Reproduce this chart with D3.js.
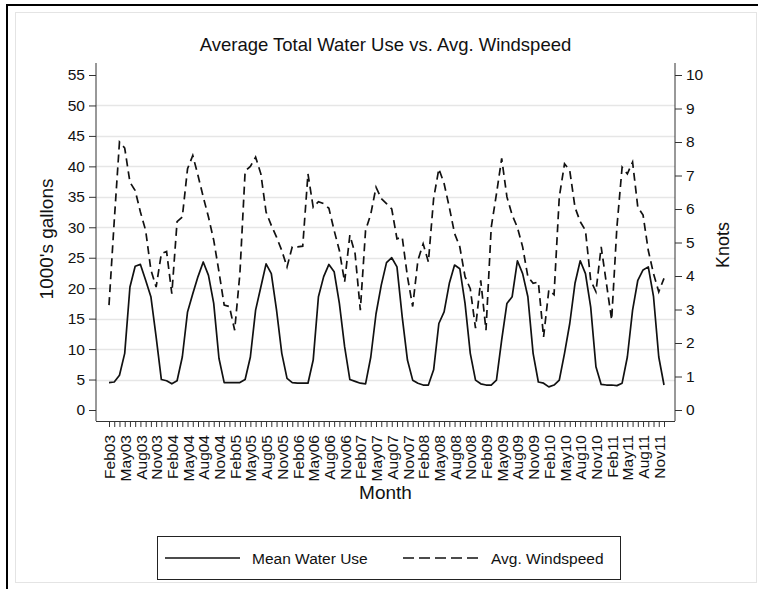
<!DOCTYPE html>
<html>
<head>
<meta charset="utf-8">
<script src="https://cdn.jsdelivr.net/npm/d3@7"></script>
<style>
  html, body { margin: 0; padding: 0; background: #fff; }
  svg { display: block; font-family: "Liberation Sans", Arial, sans-serif; }
</style>
</head>
<body>
<svg id="chart" width="758" height="589"></svg>
<script>
// ---------- data ----------
// Mean water use (1000's gallons), monthly Feb03 .. Dec11
const waterUse = [
  4.5, 4.6, 5.7, 9.3, 20.2, 23.6, 23.9, 21.3, 18.6, 12.0, 5.0, 4.8,
  4.3, 4.8, 8.7, 16.1, 19.1, 21.9, 24.3, 22.1, 17.5, 8.5, 4.5, 4.5,
  4.5, 4.5, 5.0, 8.7, 16.4, 20.2, 24.0, 22.4, 16.4, 9.3, 5.2, 4.5,
  4.4, 4.4, 4.4, 8.2, 18.6, 21.9, 23.9, 22.7, 17.5, 10.4, 5.0, 4.7,
  4.4, 4.3, 8.7, 15.8, 20.5, 24.2, 25.0, 23.5, 15.3, 8.2, 4.9, 4.4,
  4.1, 4.1, 6.6, 14.2, 16.1, 20.8, 23.8, 23.2, 17.5, 9.3, 4.9, 4.3,
  4.1, 4.1, 4.9, 11.5, 17.5, 18.6, 24.5, 22.4, 18.6, 9.3, 4.6, 4.4,
  3.8, 4.1, 4.9, 9.3, 14.2, 20.8, 24.5, 22.4, 16.9, 7.1, 4.2, 4.1,
  4.1, 4.0, 4.4, 8.7, 16.4, 21.3, 23.0, 23.5, 18.6, 8.7, 4.1
];

// Average windspeed (knots), monthly Feb03 .. Dec11
const windSpeed = [
  3.13, 5.64, 8.00, 7.82, 6.80, 6.55, 5.91, 5.36, 4.18, 3.67, 4.67, 4.73,
  3.47, 5.62, 5.76, 7.20, 7.60, 7.00, 6.36, 5.76, 5.07, 4.13, 3.13, 3.09,
  2.38, 4.07, 7.13, 7.27, 7.55, 7.05, 5.91, 5.51, 5.16, 4.76, 4.27, 4.87,
  4.87, 4.89, 7.05, 6.05, 6.22, 6.16, 6.02, 5.36, 4.76, 3.82, 5.22, 4.67,
  2.98, 5.36, 5.85, 6.65, 6.31, 6.16, 6.00, 5.11, 5.16, 3.98, 3.09, 4.47,
  4.96, 4.42, 6.31, 7.20, 6.76, 6.05, 5.27, 4.87, 3.98, 3.62, 2.44, 3.87,
  2.38, 5.45, 6.45, 7.51, 6.36, 5.82, 5.45, 4.87, 3.98, 3.78, 3.82, 2.18,
  3.58, 3.44, 6.36, 7.35, 7.15, 6.05, 5.62, 5.36, 3.87, 3.53, 4.87, 3.78,
  2.69, 5.45, 7.25, 7.05, 7.40, 6.05, 5.82, 4.76, 4.07, 3.53, 3.93
];

const xTickLabels = [
  "Feb03","May03","Aug03","Nov03","Feb04","May04","Aug04","Nov04",
  "Feb05","May05","Aug05","Nov05","Feb06","May06","Aug06","Nov06",
  "Feb07","May07","Aug07","Nov07","Feb08","May08","Aug08","Nov08",
  "Feb09","May09","Aug09","Nov09","Feb10","May10","Aug10","Nov10",
  "Feb11","May11","Aug11","Nov11"
];
const leftTicks = [0,5,10,15,20,25,30,35,40,45,50,55];
const rightTicks = [0,1,2,3,4,5,6,7,8,9,10];
const gridValues = [5,10,15,20,25,30,35,40,45,50];

const titleText = "Average Total Water Use vs. Avg. Windspeed";
const yLeftTitle = "1000's gallons";
const yRightTitle = "Knots";
const xTitle = "Month";
const legendLabels = ["Mean Water Use", "Avg. Windspeed"];

// ---------- layout ----------
const plot = { left: 96, right: 675, top: 63, bottom: 421 };
const svg = d3.select("#chart");

// frames
svg.append("rect").attr("x", 15.5).attr("y", 12.5).attr("width", 741).attr("height", 570)
  .attr("fill", "#fff").attr("stroke", "#e4e4e4").attr("stroke-width", 1);
svg.append("line").attr("x1", 7).attr("x2", 7).attr("y1", 4).attr("y2", 589)
  .attr("stroke", "#000").attr("stroke-width", 2);
svg.append("line").attr("x1", 6).attr("x2", 758).attr("y1", 5).attr("y2", 5)
  .attr("stroke", "#000").attr("stroke-width", 2);

const n = waterUse.length;
const x = d3.scaleLinear().domain([0, n - 1]).range([109, 664]);
const yL = d3.scaleLinear().domain([0, 55]).range([410, 75]);
const yR = d3.scaleLinear().domain([0, 10]).range([410, 75]);

// gridlines
svg.append("g").selectAll("line").data(gridValues).join("line")
  .attr("x1", plot.left).attr("x2", plot.right)
  .attr("y1", d => Math.round(yL(d)) + 0.5).attr("y2", d => Math.round(yL(d)) + 0.5)
  .attr("stroke", "#e6e6e6").attr("stroke-width", 1.3);

// axes
const axisColor = "#333";

const gL = svg.append("g").attr("transform", `translate(${plot.left},0)`)
  .call(d3.axisLeft(yL).tickValues(leftTicks).tickSize(7).tickSizeOuter(0).tickPadding(4));
const gR = svg.append("g").attr("transform", `translate(${plot.right},0)`)
  .call(d3.axisRight(yR).tickValues(rightTicks).tickSize(7).tickSizeOuter(0).tickPadding(4));
const gX = svg.append("g").attr("transform", `translate(0,${plot.bottom})`)
  .call(d3.axisBottom(x).tickValues(d3.range(n)).tickSize(6).tickSizeOuter(0)
    .tickFormat(i => (i % 3 === 0 ? xTickLabels[i / 3] : "")));

[gL, gR, gX].forEach(g => {
  g.select(".domain").remove();
  g.selectAll(".tick line").attr("stroke", axisColor);
  g.selectAll("text").attr("fill", "#111").style("font-size", "15.5px");
});
gX.selectAll(".tick text")
  .attr("transform", "translate(0,14) rotate(-90)")
  .attr("x", 0).attr("y", 0).attr("dy", "0.36em")
  .attr("text-anchor", "end")
  .style("font-size", "15.5px");

// axis lines
svg.append("line").attr("x1", plot.left).attr("x2", plot.left).attr("y1", plot.top).attr("y2", plot.bottom)
  .attr("stroke", axisColor);
svg.append("line").attr("x1", plot.right).attr("x2", plot.right).attr("y1", plot.top).attr("y2", plot.bottom)
  .attr("stroke", axisColor);
svg.append("line").attr("x1", plot.left).attr("x2", plot.right).attr("y1", plot.bottom + 0.5).attr("y2", plot.bottom + 0.5)
  .attr("stroke", axisColor);

// series
const lineWater = d3.line().x((d, i) => x(i)).y(d => yL(d));
const lineWind = d3.line().x((d, i) => x(i)).y(d => yR(d));

svg.append("path").datum(waterUse).attr("d", lineWater)
  .attr("fill", "none").attr("stroke", "#111").attr("stroke-width", 1.7).attr("stroke-linejoin", "round");
svg.append("path").datum(windSpeed).attr("d", lineWind)
  .attr("fill", "none").attr("stroke", "#111").attr("stroke-width", 1.7)
  .attr("stroke-dasharray", "8,5");

// titles
svg.append("text").attr("x", (plot.left + plot.right) / 2).attr("y", 51)
  .attr("text-anchor", "middle").style("font-size", "18.5px").attr("fill", "#111").text(titleText);
svg.append("text").attr("transform", `translate(53,239) rotate(-90)`)
  .attr("text-anchor", "middle").style("font-size", "19px").attr("fill", "#111").text(yLeftTitle);
svg.append("text").attr("transform", `translate(729,245) rotate(-90)`)
  .attr("text-anchor", "middle").style("font-size", "18px").attr("fill", "#111").text(yRightTitle);
svg.append("text").attr("x", (plot.left + plot.right) / 2).attr("y", 499)
  .attr("text-anchor", "middle").style("font-size", "19px").attr("fill", "#111").text(xTitle);

// legend
const lg = svg.append("g");
lg.append("rect").attr("x", 157.5).attr("y", 536.5).attr("width", 463).attr("height", 43)
  .attr("fill", "#fff").attr("stroke", "#222").attr("stroke-width", 1);
lg.append("line").attr("x1", 165).attr("x2", 240).attr("y1", 558).attr("y2", 558)
  .attr("stroke", "#111").attr("stroke-width", 1.7);
lg.append("text").attr("x", 252).attr("y", 563.5).style("font-size", "15.5px").attr("fill", "#111").text(legendLabels[0]);
lg.append("line").attr("x1", 403).attr("x2", 479).attr("y1", 558).attr("y2", 558)
  .attr("stroke", "#111").attr("stroke-width", 1.7).attr("stroke-dasharray", "11,5");
lg.append("text").attr("x", 491).attr("y", 563.5).style("font-size", "15.5px").attr("fill", "#111").text(legendLabels[1]);
</script>
</body>
</html>
